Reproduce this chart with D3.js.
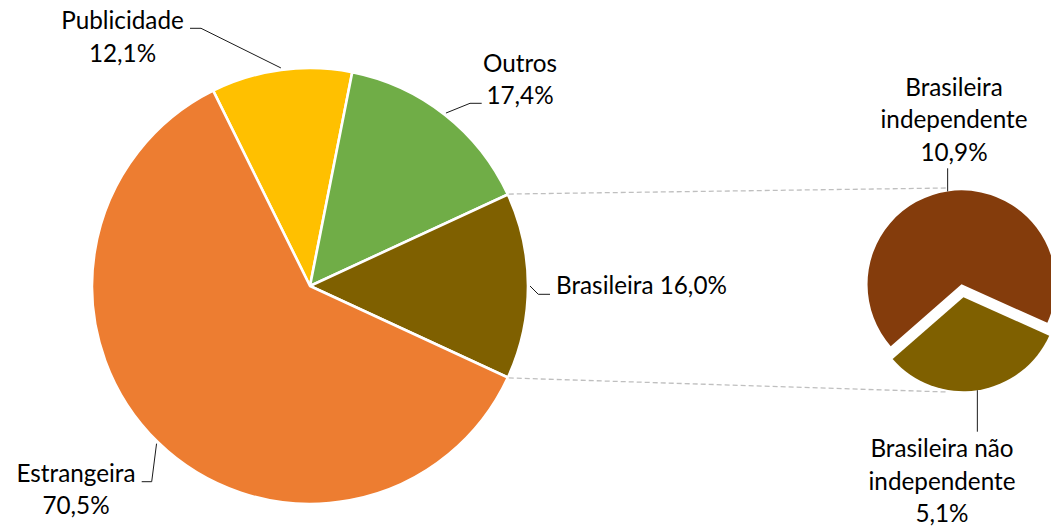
<!DOCTYPE html>
<html>
<head>
<meta charset="utf-8">
<script src="https://cdn.jsdelivr.net/npm/d3@7"></script>
<style>
    html, body { margin: 0; padding: 0; background: #fff; }
    svg { display: block; }
</style>
</head>
<body>
<svg id="chart" width="1051" height="526"></svg>
<script>
    // --- Data ---
    const categories = ['Publicidade', 'Outros', 'Brasileira', 'Estrangeira'];
    const shares = [12.1, 17.4, 16.0, 70.5];
    const subCategories = ['Brasileira não independente', 'Brasileira independente'];
    const subShares = [5.1, 10.9];

    // --- Styles / layout ---
    const mainColors = ['#FFC000', '#70AD47', '#7F6000', '#ED7D31'];
    const subColors = ['#7F6000', '#843C0C'];
    const FONT = 'Lato, "Open Sans", sans-serif';
    const LINE_H = 32.4;

    const W = 1051, H = 526;
    const main = { cx: 310, cy: 286, r: 218 };
    const sub = { cx: 962.5, cy: 290.8, r: 94, explode: 6.5 };

    // label boxes: x/y = first baseline, leader elbow + end points
    const mainLabels = {
        'Publicidade': { x: 122.5, y: 29.3, anchor: 'middle', lines: d => [d, 'pct'], elbow: [201, 28.3], end: [190, 28.3] },
        'Outros':      { x: 520, y: 71.7, anchor: 'middle', lines: d => [d, 'pct'], elbow: [470, 103.3], end: [481.7, 103.3] },
        'Brasileira':  { x: 556, y: 294.3, anchor: 'start', lines: d => [d + ' pct'], elbow: [538.3, 294.3], end: [550, 294.3] },
        'Estrangeira': { x: 76, y: 481.7, anchor: 'middle', lines: d => [d, 'pct'], elbow: [151.7, 481.7], end: [141.7, 481.7] }
    };
    const subLabels = {
        'Brasileira não independente': { x: 942, y: 457.3, lines: ['Brasileira não', 'independente', 'pct'], end: 431.7 },
        'Brasileira independente':     { x: 954, y: 96, lines: ['Brasileira', 'independente', 'pct'], end: 168.3 }
    };

    const fmt = v => d3.format('.1f')(v).replace('.', ',') + '%';
    const deg = Math.PI / 180;

    const svg = d3.select('#chart');

    // pick a font size so the text width matches the reference (~171px for "Brasileira 16,0%")
    const probe = svg.append('text').style('font-family', FONT).style('font-size', '26px').text('Brasileira 16,0%');
    const probeW = probe.node().getComputedTextLength();
    probe.remove();
    const fontSize = Math.min(27, 26 * 171 / probeW);

    // --- Main pie ---
    const total = d3.sum(shares);
    const brIdx = categories.indexOf('Brasileira');
    const before = d3.sum(shares.slice(0, brIdx));
    const start = Math.PI / 2 - (before + shares[brIdx] / 2) / total * 2 * Math.PI;

    const pie = d3.pie().sort(null).value(d => d.value).startAngle(start).endAngle(start + 2 * Math.PI);
    const mainData = pie(categories.map((c, i) => ({ name: c, value: shares[i], color: mainColors[i] })));
    const arc = d3.arc().innerRadius(0).outerRadius(main.r);

    const gMain = svg.append('g').attr('transform', `translate(${main.cx},${main.cy})`);
    gMain.selectAll('path')
        .data(mainData)
        .enter()
        .append('path')
        .attr('d', arc)
        .attr('fill', d => d.data.color)
        .attr('stroke', '#fff')
        .attr('stroke-width', 2.6)
        .attr('stroke-linejoin', 'round');

    const polar = (cx, cy, r, a) => [cx + r * Math.sin(a), cy - r * Math.cos(a)];

    // --- Connector lines (dashed) ---
    const br = mainData[brIdx];
    const p1 = polar(main.cx, main.cy, main.r + 1, br.startAngle);
    const p2 = polar(main.cx, main.cy, main.r + 1, br.endAngle);
    const connectors = [
        [p1, [sub.cx - 15.5, sub.cy - 102.8]],
        [p2, [sub.cx - 15.5, sub.cy + 101.2]]
    ];
    svg.selectAll('line.connector')
        .data(connectors)
        .enter()
        .append('line')
        .attr('class', 'connector')
        .attr('x1', d => d[0][0]).attr('y1', d => d[0][1])
        .attr('x2', d => d[1][0]).attr('y2', d => d[1][1])
        .attr('stroke', '#BFBFBF')
        .attr('stroke-width', 1.3)
        .attr('stroke-dasharray', '5,3');

    // --- Secondary pie ---
    const subTotal = d3.sum(subShares);
    const subMid = 171.5 * deg;
    const subStart = subMid - subShares[0] / subTotal * Math.PI;
    const subPie = d3.pie().sort(null).value(d => d.value).startAngle(subStart).endAngle(subStart + 2 * Math.PI);
    const subData = subPie(subCategories.map((c, i) => ({ name: c, value: subShares[i], color: subColors[i] })));
    const subArc = d3.arc().innerRadius(0).outerRadius(sub.r);

    subData.forEach(d => {
        const m = (d.startAngle + d.endAngle) / 2;
        d.ox = sub.cx + sub.explode * Math.sin(m);
        d.oy = sub.cy - sub.explode * Math.cos(m);
        d.mid = m;
    });

    svg.append('g').selectAll('path')
        .data(subData)
        .enter()
        .append('path')
        .attr('transform', d => `translate(${d.ox},${d.oy})`)
        .attr('d', subArc)
        .attr('fill', d => d.data.color);

    // --- Leader lines ---
    const leaderColor = '#1a1a1a';
    mainData.forEach(d => {
        const L = mainLabels[d.data.name];
        const m = (d.startAngle + d.endAngle) / 2;
        const p = polar(main.cx, main.cy, main.r + 2, m);
        svg.append('polyline')
            .attr('points', [p, L.elbow, L.end].map(q => q.join(',')).join(' '))
            .attr('fill', 'none')
            .attr('stroke', leaderColor)
            .attr('stroke-width', 1);
    });

    subData.forEach(d => {
        const L = subLabels[d.data.name];
        const p = polar(d.ox, d.oy, sub.r, d.mid);
        svg.append('line')
            .attr('x1', p[0]).attr('y1', p[1])
            .attr('x2', p[0]).attr('y2', L.end)
            .attr('stroke', leaderColor)
            .attr('stroke-width', 1);
    });

    // --- Labels ---
    const drawLabel = (x, y, anchor, lines) => {
        const t = svg.append('text')
            .attr('x', x).attr('y', y)
            .attr('text-anchor', anchor)
            .style('font-family', FONT)
            .style('font-size', fontSize + 'px')
            .attr('fill', '#000');
        lines.forEach((ln, i) => {
            t.append('tspan').attr('x', x).attr('y', y + i * LINE_H).text(ln);
        });
    };

    mainData.forEach(d => {
        const L = mainLabels[d.data.name];
        const lines = L.lines(d.data.name).map(s => s.replace('pct', fmt(d.data.value)));
        drawLabel(L.x, L.y, L.anchor, lines);
    });

    subData.forEach(d => {
        const L = subLabels[d.data.name];
        const lines = L.lines.map(s => s.replace('pct', fmt(d.data.value)));
        drawLabel(L.x, L.y, 'middle', lines);
    });
</script>
</body>
</html>
